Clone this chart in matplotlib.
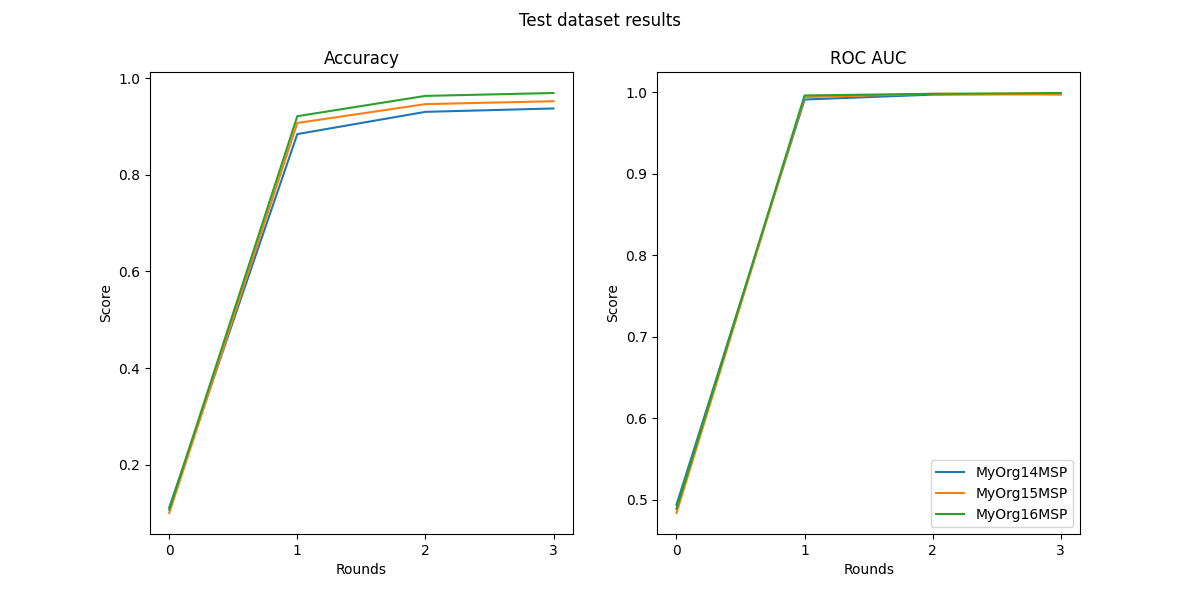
import numpy as np
import matplotlib
matplotlib.use("Agg")
import matplotlib.pyplot as plt

rounds = [0, 1, 2, 3]
labels = ["MyOrg14MSP", "MyOrg15MSP", "MyOrg16MSP"]

accuracy = [
    [0.111, 0.884, 0.930, 0.937],
    [0.100, 0.907, 0.946, 0.952],
    [0.107, 0.921, 0.963, 0.969],
]
roc_auc = [
    [0.494, 0.991, 0.997, 0.998],
    [0.484, 0.994, 0.998, 0.997],
    [0.489, 0.996, 0.998, 0.999],
]

fig, (ax1, ax2) = plt.subplots(1, 2, figsize=(12, 6))
fig.suptitle("Test dataset results")

for name, vals in zip(labels, accuracy):
    ax1.plot(rounds, vals, label=name)
ax1.set_title("Accuracy")
ax1.set_xlabel("Rounds")
ax1.set_ylabel("Score")
ax1.set_xticks(rounds)

for name, vals in zip(labels, roc_auc):
    ax2.plot(rounds, vals, label=name)
ax2.set_title("ROC AUC")
ax2.set_xlabel("Rounds")
ax2.set_ylabel("Score")
ax2.set_xticks(rounds)
ax2.legend(loc="lower right")

fig.savefig("out.png", dpi=100)
